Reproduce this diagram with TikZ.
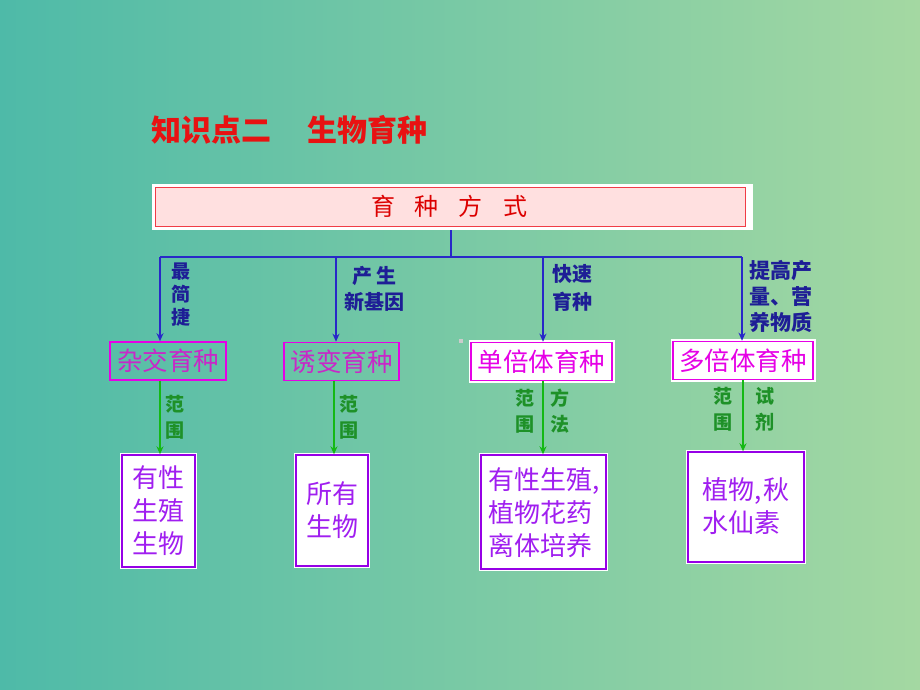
\documentclass[tikz,border=0pt]{standalone}
\usepackage{fontspec}
\setmainfont{Noto Sans CJK SC}
\usetikzlibrary{arrows.meta}
\definecolor{bgL}{RGB}{78,186,168}
\definecolor{bgR}{RGB}{164,216,162}
\definecolor{ttlred}{RGB}{232,18,18}
\definecolor{topred}{RGB}{220,0,0}
\definecolor{topborder}{RGB}{240,60,70}
\definecolor{toppink}{RGB}{255,224,224}
\definecolor{lineblue}{RGB}{40,40,200}
\definecolor{lblblue}{RGB}{30,30,150}
\definecolor{mag}{RGB}{230,0,230}
\definecolor{magtxt}{RGB}{200,40,200}
\definecolor{linegreen}{RGB}{20,185,20}
\definecolor{lblgreen}{RGB}{30,145,40}
\definecolor{purp}{RGB}{150,0,230}
\definecolor{purptxt}{RGB}{160,30,240}
\tikzset{
  bluelbl/.style={text=lblblue, font=\fontsize{20}{26}\selectfont\bfseries, align=center, inner sep=0pt},
  greenlbl/.style={text=lblgreen, font=\fontsize{19}{26}\selectfont\bfseries, align=center, inner sep=0pt},
  methodbox/.style={draw=mag, line width=1.6pt, text=magtxt, font=\fontsize{25.5}{28}\selectfont, inner sep=0pt, minimum height=38pt},
  methodwhite/.style={methodbox, fill=white, text=mag, preaction={draw=white, line width=5pt}},
  resbox/.style={draw=purp, line width=1.4pt, fill=white, text=purptxt, font=\fontsize{26}{33}\selectfont, inner sep=0pt, align=center, preaction={draw=white, line width=4.5pt}},
  restext/.style={text=purptxt, font=\fontsize{26}{33}\selectfont, inner sep=0pt, align=left, anchor=west},
  blueline/.style={draw=lineblue, line width=1.3pt},
  bluearrow/.style={blueline, -{Stealth[length=8pt,width=7pt]}},
  greenarrow/.style={draw=linegreen, line width=1.3pt, -{Stealth[length=8pt,width=7pt]}}
}
\begin{document}
\begin{tikzpicture}[x=1pt,y=-1pt]
\shade[left color=bgL, right color=bgR] (0,0) rectangle (920,690);
\useasboundingbox (0,0) rectangle (920,690);
% title
\node[anchor=west, text=ttlred, font=\fontsize{30}{32}\selectfont\bfseries, inner sep=0pt] (title) at (151,130) {知识点二\hspace{36pt}生物育种};
% top box
\node[fill=white, minimum width=601pt, minimum height=46pt, inner sep=0pt] (top) at (452.5,207) {};
\node[draw=topborder, line width=1.4pt, fill=toppink, minimum width=590pt, minimum height=39pt, inner sep=0pt] (topin) at (450.5,207) {};
\node[text=topred, font=\fontsize{24}{28}\selectfont, inner sep=0pt] (toptxt) at (449,206) {育\hspace{20pt}种\hspace{20pt}方\hspace{20pt}式};
% level 2 boxes
\node[methodbox, minimum width=116pt] (b1) at (168,361) {杂交育种};
\node[methodbox, minimum width=115pt] (b2) at (341.5,361.5) {诱变育种};
\node[methodwhite, minimum width=141pt] (b3) at (541.5,361.5) {单倍体育种};
\node[methodwhite, minimum width=140pt] (b4) at (743,360.5) {多倍体育种};
% junctions
\coordinate (j) at (451,257);
\coordinate (h1) at (160,257);
\coordinate (h2) at (336,257);
\coordinate (h3) at (543,257);
\coordinate (h4) at (742,257);
\draw[blueline] (top.south -| j) -- (j);
\draw[blueline] (h1) -- (h4);
\draw[bluearrow] (h1) -- (h1 |- b1.north);
\draw[bluearrow] (h2) -- (h2 |- b2.north);
\draw[bluearrow] (h3) -- (h3 |- b3.north);
\draw[bluearrow] (h4) -- (h4 |- b4.north);
% blue labels
\node[bluelbl, font=\fontsize{19}{23}\selectfont\bfseries] (l1) at (181,295) {最\\简\\捷};
\node[bluelbl] (l2) at (374,289) {产\hspace{4pt}生\\新基因};
\node[bluelbl, font=\fontsize{20}{28}\selectfont\bfseries] (l3) at (572,288) {快速\\育种};
\node[bluelbl, font=\fontsize{21}{26}\selectfont\bfseries] (l4) at (781,296) {提高产\\量、营\\养物质};
% result boxes
\node[resbox, minimum width=73pt, minimum height=112pt] (c1) at (158.5,511) {有性\\生殖\\生物};
\node[resbox, minimum width=72pt, minimum height=111pt] (c2) at (332,510.5) {所有\\生物};
\node[resbox, minimum width=125pt, minimum height=114pt] (c3) at (543.5,512) {};
\node[restext] (c3t) at (488,513) {有性生殖,\\植物花药\\离体培养};
\node[resbox, minimum width=116pt, minimum height=110pt] (c4) at (746,507) {};
\node[restext] (c4t) at (702,506) {植物,\hspace{2pt}秋\\水仙素};
% green arrows
\draw[greenarrow] (b1.south -| h1) -- (c1.north -| h1);
\draw[greenarrow] (b2.south -| 334,0) -- (c2.north -| 334,0);
\draw[greenarrow] (b3.south -| h3) -- (c3.north -| h3);
\draw[greenarrow] (b4.south -| 743,0) -- (c4.north -| 743,0);
% green labels
\node[greenlbl] (g1) at (175,417) {范\\围};
\node[greenlbl] (g2) at (349,417) {范\\围};
\node[greenlbl] (g3a) at (525,411) {范\\围};
\node[greenlbl] (g3b) at (560,411) {方\\法};
\node[greenlbl] (g4a) at (723,409) {范\\围};
\node[greenlbl] (g4b) at (765,409) {试\\剂};
% small mark
\node[fill=gray!40, minimum size=4pt, inner sep=0pt] (dot) at (461,341) {};
\end{tikzpicture}
\end{document}
